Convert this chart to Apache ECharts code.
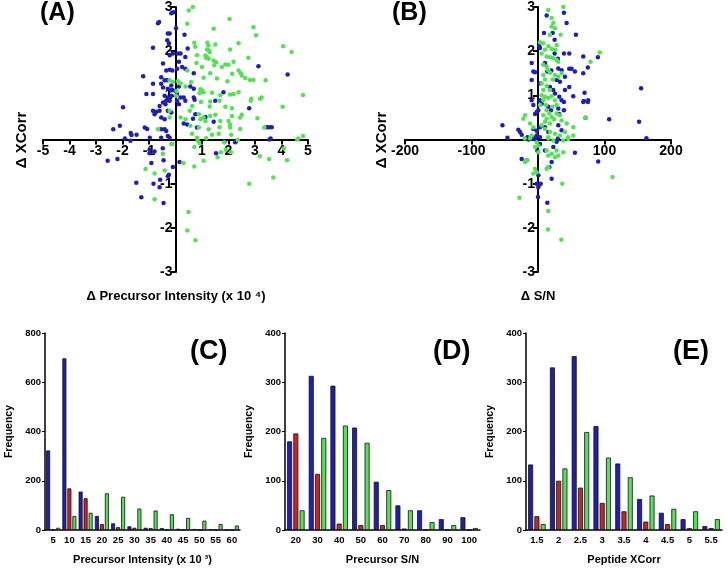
<!DOCTYPE html>
<html lang="en">
<head>
<meta charset="UTF-8">
<title>Delta XCorr and precursor histograms</title>
<script src="https://cdn.jsdelivr.net/npm/echarts@6/dist/echarts.min.js"></script>
<style>html,body{margin:0;background:#fff}</style>
</head>
<body>
<div id="main" style="width:728px;height:569px"></div>
<script>
// (A) delta precursor intensity (x10^4) vs delta XCorr
var aBlue = [[-0.16,2.86],[-0.08,2.88],[-0.66,2.63],[-0.62,2.66],[0.02,2.52],[-0.29,2.40],[-0.22,2.40],[-0.31,2.25],[-0.25,2.18],[-0.85,2.08],[-0.1,1.95],[-0.22,1.91],[-0.47,1.72],[-0.35,1.56],[-0.22,1.58],[-0.12,1.56],[-1.22,1.43],[-0.54,1.41],[-0.41,1.34],[-0.31,1.34],[-0.85,1.26],[-0.54,1.26],[-0.47,1.18],[-0.16,1.22],[-0.29,1.15],[-0.2,1.11],[-0.12,1.12],[-1.1,1.03],[-0.85,1.03],[-0.41,0.99],[-0.29,0.95],[-0.16,0.99],[-0.35,0.88],[-0.22,0.88],[-0.47,0.84],[-0.38,0.80],[-0.6,0.76],[-1.98,0.73],[-0.85,0.65],[-0.72,0.63],[-0.6,0.65],[-0.79,0.57],[-0.29,0.65],[-0.16,0.61],[-0.54,0.5],[-0.41,0.46],[-2.35,0.23],[-2.1,0.31],[-1.69,0.15],[-1.66,0.1],[-1.47,0.11],[-1.16,0.27],[-1.07,0.24],[-1.91,0.02],[-0.41,0.23],[-0.35,0.19],[-0.54,0.23],[-0.29,0.08],[-0.54,0.04],[-0.22,0.04],[-0.97,0.04],
  [0.34,2.37],[0.09,1.95],[0.19,1.95],[0.37,1.87],[0.13,1.76],[0.06,1.6],[0.25,1.64],[0.37,1.6],[0.46,2.06],[3.13,1.66],[4.23,1.47],[0.69,1.5],[0.13,1.2],[0.0,1.1],[0.06,1.03],[0.19,0.95],[0.31,0.95],[0.56,1.2],[0.69,1.15],[1.81,1.07],[0.06,0.88],[0.13,0.8],[0.37,0.88],[0.69,0.95],[0.72,0.9],[1.5,0.88],[2.78,0.71],[0.75,0.57],[0.66,0.47],[1.13,0.51],[1.44,0.4],[0.31,0.36],[0.44,0.34],[0.81,0.27],[3.44,0.28],[3.53,0.28],[3.63,0.28],[3.59,0.02],[2.29,-0.04],[1.85,-0.04],
  [-2.56,-0.48],[-2.19,-0.44],[-1.7,-0.03],[-0.98,-0.23],[-0.98,-0.31],[-0.79,-0.27],[-0.48,-0.2],[-0.45,-0.47],[-0.91,-0.53],[-0.1,-0.62],[0.15,-0.51],[-0.25,-0.8],[-0.29,-0.83],[-0.58,-0.91],[-1.48,-0.98],[-0.83,-1.0],[-0.6,-1.08],[-1.29,-1.31],[-0.45,-1.44],[1.53,-0.31],[2.25,-0.06],[3.55,0.0]];
var aGreen = [[-0.22,1.34],[-0.1,1.3],[0.04,1.1],[0.02,0.99],[-0.22,0.65],[-0.22,0.5],[-0.66,0.23],[-0.12,-0.1],
  [0.5,2.92],[0.65,3.0],[0.44,2.62],[2.04,2.73],[2.94,2.54],[3.04,2.36],[1.44,2.51],[0.71,2.19],[1.2,2.19],[1.24,2.13],[1.5,2.15],[2.38,2.18],[4.06,2.11],[4.38,1.98],[0.75,2.1],[1.19,2.04],[1.25,2.02],[1.29,1.98],[1.13,1.90],[1.19,1.86],[1.25,1.83],[1.15,1.85],[2.06,2.04],[0.81,1.91],[2.75,1.85],[1.44,1.79],[1.53,1.75],[1.46,1.68],[0.79,1.73],[1.88,1.70],[2.0,1.69],[2.19,1.76],[0.44,1.56],[1.0,1.64],[2.38,1.56],[2.46,1.50],[2.5,1.45],[2.63,1.39],[1.31,1.50],[1.75,1.64],[2.14,1.49],[2.81,1.35],[2.94,1.35],[3.4,1.34],[1.06,1.40],[1.56,1.38],[1.96,1.32],[0.59,1.3],[0.38,1.2],[0.19,1.27],[0.09,1.32],[0.94,1.14],[1.0,1.11],[1.06,1.07],[0.91,1.05],[1.38,1.06],[1.69,1.0],[2.06,1.02],[2.19,1.03],[2.38,1.07],[3.25,0.95],[3.19,0.92],[2.86,0.92],[2.84,0.88],[4.81,1.01],[0.63,0.76],[0.54,0.65],[0.96,0.85],[1.31,0.86],[1.66,0.88],[1.29,0.75],[1.88,0.74],[2.13,0.71],[2.5,0.56],[2.44,0.5],[3.09,0.48],[4.04,0.74],[0.19,0.5],[0.38,0.46],[1.06,0.5],[0.94,0.46],[0.88,0.57],[1.13,0.42],[1.31,0.53],[1.5,0.56],[1.69,0.42],[2.0,0.42],[2.06,0.34],[2.13,0.53],[0.56,0.31],[0.88,0.27],[1.25,0.23],[1.66,0.28],[2.06,0.27],[2.44,0.24],[3.35,0.27],[0.63,0.13],[1.38,0.11],[1.63,0.13],[2.1,0.11],[0.81,0.04],[4.63,0.02],[4.81,0.08],
  [-0.48,-0.32],[-0.16,-0.1],[-1.13,-0.67],[-0.79,-0.77],[-0.41,-0.7],[-0.79,-1.35],[0.3,-0.53],[0.71,-0.17],[0.71,-0.61],[1.06,-0.48],[0.84,-0.03],[0.9,-0.08],[1.16,0.03],[1.59,-0.4],[1.71,-0.29],[1.9,-0.23],[2.09,-0.29],[1.84,-0.07],[2.35,-0.01],[2.78,-1.0],[3.18,-0.38],[3.53,-0.44],[3.69,-0.86],[4.09,-0.2],[4.21,-0.47],[4.59,0.0],[0.49,-1.64],[0.44,-2.06],[0.75,-2.28]];

// (B) delta S/N vs delta XCorr
var bBlue = [[13,2.81],[39,2.87],[43,2.64],[9,2.41],[22,2.41],[25,2.26],[57,2.37],[2,2.11],[3,2.07],[39,1.95],[47,1.95],[25,1.95],[30,1.83],[-9.5,1.73],[10.5,1.73],[-7,1.54],[-4.5,1.52],[14,1.54],[20,1.56],[30.5,1.61],[35.5,1.57],[47,1.6],[50.5,1.6],[40.5,1.42],[55.5,1.54],[-9.5,1.35],[3,1.27],[28,1.35],[33,1.31],[18,1.19],[23,1.12],[25.5,1.04],[47,1.19],[40.5,1.12],[32,0.97],[35.5,0.89],[39,0.85],[53,0.98],[69,0.87],[75.5,0.89],[-9.5,0.89],[-7,0.78],[0.5,0.66],[-2,0.62],[-4.5,0.58],[3,0.89],[5.5,0.81],[15.5,0.74],[19.5,0.66],[30.5,0.7],[32,0.58],[39,0.66],[71.5,0.49],[-53.5,0.32],[-29.5,0.22],[-27,0.17],[-24.5,0.11],[-46,0.04],[-16,0.05],[-7,0.24],[-2,0.2],[3,0.28],[10.5,0.28],[15.5,0.17],[30.5,0.32],[35.5,0.21],[-2,0.09],[3,0.05],
  [68,1.88],[90,1.86],[75,1.63],[68,1.5],[70,1.06],[68,0.85],[75,0.85],[155,1.16],[107,0.46],[152,0.4],[163,0.03],
  [-14,0],[-9,0.02],[-4,0.04],[-24.5,-0.44],[-17,-0.47],[-1,-0.25],[3,-0.1],[10.5,-0.25],[23,-0.17],[28,-0.05],[30,0.02],[55.5,-0.3],[90.5,-0.5],[20.5,-0.51],[17,-0.62],[0.5,-0.81],[-2,-1.0],[2,-1.02],[4,-1.0],[0.5,-1.08],[0,-1.3],[14,-1.43],[20.5,-0.89]];
var bGreen = [[15.5,2.93],[38,3.0],[20.5,2.75],[23,2.64],[25.5,2.52],[20.5,2.56],[34,2.37],[18,2.37],[3,2.2],[8,2.18],[15.5,2.11],[20.5,2.05],[28,2.14],[25.5,2.03],[10.5,2.03],[5.5,1.95],[13,1.88],[18,1.86],[23,1.84],[28,1.8],[30.5,1.76],[8,1.69],[13,1.65],[15.5,1.57],[18,1.51],[25.5,1.46],[30.5,1.42],[35.5,1.5],[22,1.36],[8,1.46],[10.5,1.36],[5.5,1.27],[13,1.21],[18,1.12],[8,1.12],[5.5,1.0],[10.5,0.97],[15.5,0.94],[20.5,0.98],[25.5,0.89],[8,0.89],[12,0.78],[3,0.78],[22,0.74],[28,0.78],[13,0.66],[17,0.59],[20.5,0.51],[24,0.46],[28,0.59],[33,0.55],[35.5,0.43],[43,0.36],[53,0.28],[8,0.55],[13,0.47],[5.5,0.32],[10.5,0.4],[-19.5,0.55],[-22,0.47],[18,0.36],[10.5,0.24],[18,0.17],[25.5,0.13],[40.5,0.17],[45.5,0.05],[53,0.09],[-12,0.36],[-7,0.28],[-9.5,0.09],[33,0.09],[15.5,0.05],
  [93,1.97],[79,1.76],[72,0.49],
  [-20,0.02],[-12,0.03],[-2,-0.06],[0.5,-0.14],[-4.5,-0.17],[0.5,-0.29],[-19.5,-0.51],[-17,-0.47],[-4.5,-0.66],[-2,-0.74],[-7,-0.77],[13,-0.25],[15.5,-0.36],[20.5,-0.32],[25.5,-0.4],[30.5,-0.36],[38,-0.29],[15.5,-0.62],[13,-0.66],[28,-0.25],[38,-0.02],[45.5,0.01],[23,-0.02],[15.5,0.02],[36.5,-1.0],[-28,-1.32],[15.5,-1.62],[15,-2.04],[35,-2.27],[112,-0.85]];

// (C) precursor intensity histogram
var intensityBins = ['5','10','15','20','25','30','35','40','45','50','55','60'];
var intensityBlue = [323,697,156,57,27,15,9,8,5,4,3,1];
var intensityRed = [2,169,129,24,12,9,8,1,1,0,0,0];
var intensityGreen = [9,57,70,149,135,87,79,64,49,38,24,18];

// (D) precursor S/N histogram
var snBins = ['20','30','40','50','60','70','80','90','100'];
var snBlue = [180,313,293,208,98,50,40,22,26];
var snRed = [196,114,13,10,10,3,1,1,0];
var snGreen = [40,187,212,177,81,40,16,10,4];

// (E) peptide XCorr histogram
var xcorrBins = ['1.5','2','2.5','3','3.5','4','4.5','5','5.5'];
var xcorrBlue = [133,330,353,211,135,63,35,22,8];
var xcorrRed = [28,100,86,55,38,17,12,4,4];
var xcorrGreen = [12,125,199,147,107,70,43,38,22];

var FONT = 'Liberation Sans';
var BLUE = '#1f1fb2', RED = '#c4262a', GREEN = '#55e055';

// the scatter axes cross in the middle of the grid: pull them in with a negative offset
function scatterX(min, max, step, shift) {
    return {
        type: 'value', min: min, max: max, interval: step,
        offset: -shift,
        splitLine: { show: false },
        axisLine: { onZero: false, lineStyle: { color: '#000', width: 2 } },
        axisTick: { length: 5, lineStyle: { color: '#000', width: 2 } },
        axisLabel: {
            color: '#000', fontFamily: FONT, fontWeight: 'bold', fontSize: 14, margin: 5,
            formatter: function (v) { return v === 0 ? '' : v; }
        }
    };
}

function scatterY(shift) {
    var ax = scatterX(-3, 3, 1, shift);
    ax.axisLabel.margin = 3;
    return ax;
}

function histX(cats) {
    return {
        type: 'category', data: cats,
        axisLine: { lineStyle: { color: '#000', width: 1.5 } },
        axisTick: { alignWithLabel: true, length: 3, lineStyle: { color: '#000' } },
        axisLabel: { color: '#000', fontFamily: FONT, fontWeight: 'bold', fontSize: 9.5, margin: 5 },
        nameLocation: 'middle', nameGap: 24,
        nameTextStyle: { color: '#000', fontFamily: FONT, fontWeight: 'bold', fontSize: 11 }
    };
}

function histY(max) {
    return {
        type: 'value', min: 0, max: max, interval: max / 4,
        splitLine: { show: false },
        axisLine: { show: true, lineStyle: { color: '#000', width: 1.5 } },
        axisTick: { show: true, length: 3, lineStyle: { color: '#000' } },
        axisLabel: { color: '#000', fontFamily: FONT, fontWeight: 'bold', fontSize: 9.5, margin: 4 },
        name: 'Frequency', nameLocation: 'middle', nameGap: 30,
        nameTextStyle: { color: '#000', fontFamily: FONT, fontWeight: 'bold', fontSize: 10.5 }
    };
}

function bars(idx, data, color, w) {
    return {
        type: 'bar', xAxisIndex: idx, yAxisIndex: idx, data: data,
        barWidth: w, barGap: '25%',
        itemStyle: { color: color, borderColor: '#111', borderWidth: 0.8 }
    };
}

function dots(idx, data, color) {
    return {
        type: 'scatter', xAxisIndex: idx, yAxisIndex: idx, data: data,
        symbolSize: 4.5, itemStyle: { color: color, opacity: 1 }
    };
}

function label(txt, x, y, size) {
    return {
        type: 'text', left: x, top: y,
        style: { text: txt, fill: '#000', font: 'bold ' + size + 'px ' + FONT }
    };
}

var myChart = echarts.init(document.getElementById('main'));

var cx = histX(intensityBins), dx = histX(snBins), ex = histX(xcorrBins);
cx.name = 'Precursor Intensity (x 10 \u00b3)';
dx.name = 'Precursor S/N';
ex.name = 'Peptide XCorr';

myChart.setOption({
    animation: false,
    backgroundColor: '#fff',
    grid: [
        { left: 43, top: 7, width: 265, height: 265 },
        { left: 405, top: 7, width: 266, height: 265 },
        { left: 45, top: 333, width: 195, height: 197 },
        { left: 285, top: 333, width: 195, height: 197 },
        { left: 526, top: 333, width: 196, height: 197 }
    ],
    xAxis: [
        Object.assign(scatterX(-5, 5, 1, 132.5), { gridIndex: 0 }),
        Object.assign(scatterX(-200, 200, 100, 132.5), { gridIndex: 1 }),
        Object.assign(cx, { gridIndex: 2 }),
        Object.assign(dx, { gridIndex: 3 }),
        Object.assign(ex, { gridIndex: 4 })
    ],
    yAxis: [
        Object.assign(scatterY(132.5), { gridIndex: 0 }),
        Object.assign(scatterY(133), { gridIndex: 1 }),
        Object.assign(histY(800), { gridIndex: 2 }),
        Object.assign(histY(400), { gridIndex: 3 }),
        Object.assign(histY(400), { gridIndex: 4 })
    ],
    series: [
        dots(0, aBlue, BLUE), dots(0, aGreen, GREEN),
        dots(1, bBlue, BLUE), dots(1, bGreen, GREEN),
        bars(2, intensityBlue, BLUE, 4), bars(2, intensityRed, RED, 4), bars(2, intensityGreen, GREEN, 4),
        bars(3, snBlue, BLUE, 5), bars(3, snRed, RED, 5), bars(3, snGreen, GREEN, 5),
        bars(4, xcorrBlue, BLUE, 5), bars(4, xcorrRed, RED, 5), bars(4, xcorrGreen, GREEN, 5)
    ],
    graphic: [
        label('(A)', 40, 1, 25),
        label('(B)', 392, 1, 25),
        label('(C)', 190, 338, 27),
        label('(D)', 433, 338, 27),
        label('(E)', 673, 338, 27),
        { type: 'text', x: 22, y: 140, rotation: Math.PI / 2,
          style: { text: '\u0394 XCorr', fill: '#000', font: 'bold 15px ' + FONT, align: 'center', verticalAlign: 'middle' } },
        { type: 'text', x: 382, y: 140, rotation: Math.PI / 2,
          style: { text: '\u0394 XCorr', fill: '#000', font: 'bold 15px ' + FONT, align: 'center', verticalAlign: 'middle' } },
        { type: 'text', x: 176, y: 296,
          style: { text: '\u0394 Precursor Intensity (x 10 \u2074)', fill: '#000', font: 'bold 13px ' + FONT, align: 'center', verticalAlign: 'middle' } },
        { type: 'text', x: 538, y: 296,
          style: { text: '\u0394 S/N', fill: '#000', font: 'bold 13px ' + FONT, align: 'center', verticalAlign: 'middle' } }
    ]
});
</script>
</body>
</html>
